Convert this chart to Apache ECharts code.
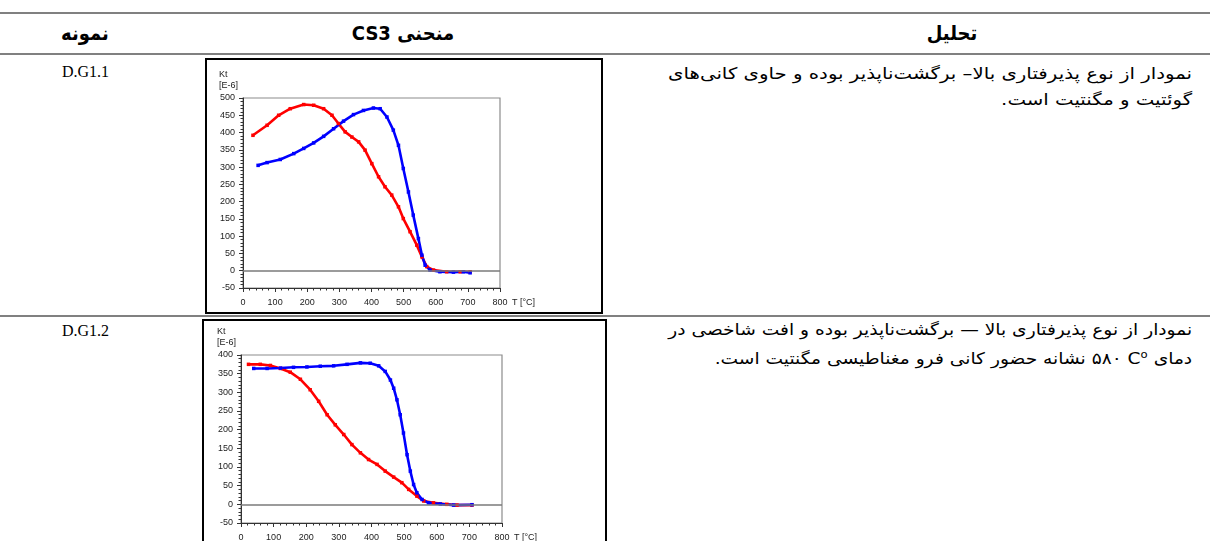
<!DOCTYPE html>
<html>
<head>
<meta charset="utf-8">
<script src="https://cdn.jsdelivr.net/npm/echarts@6/dist/echarts.min.js"></script>
<style>
  html, body { margin:0; padding:0; background:#fff; width:1210px; height:541px; overflow:hidden; }
  .hline { position:absolute; left:0; width:1210px; height:2px; background:#808080; }
  .hdr { position:absolute; top:19px; font-family:"DejaVu Sans Condensed","DejaVu Sans",sans-serif; font-weight:bold; font-size:20px; line-height:28px; transform:translateX(-50%); white-space:nowrap; }
  .sample { position:absolute; left:62px; font-family:"Liberation Serif","Times New Roman",serif; font-size:16px; line-height:20px; }
  .desc { position:absolute; right:18px; font-family:"DejaVu Sans",sans-serif; font-size:16px; line-height:26px; text-align:right; white-space:nowrap; transform-origin:right top; }
  .box { position:absolute; box-sizing:border-box; border:2px solid #000; background:#fff; }
  .box > div { width:100%; height:100%; }
  sup { font-size:10px; }
</style>
</head>
<body>
<div class="hline" style="top:12px"></div>
<div class="hline" style="top:53px"></div>
<div class="hline" style="top:315px"></div>

<div class="hdr" dir="rtl" style="left:85px">نمونه</div>
<div class="hdr" dir="rtl" style="left:403px">منحنی CS3</div>
<div class="hdr" dir="rtl" style="left:952px">تحلیل</div>

<div class="sample" style="top:62px">D.G1.1</div>
<div class="sample" style="top:321px">D.G1.2</div>

<div class="desc" dir="rtl" data-w="524" style="top:61px">نمودار از نوع پذیرفتاری بالا– برگشت‌ناپذیر بوده و حاوی کانی‌های<br>گوئتیت و مگنتیت است.</div>
<div class="desc" dir="rtl" data-w="524" style="top:317px; line-height:25px">نمودار از نوع پذیرفتاری بالا — برگشت‌ناپذیر بوده و افت شاخصی در<br>دمای <bdi dir="ltr">C<sup>o</sup></bdi> <bdi>۵۸۰</bdi> نشانه حضور کانی فرو مغناطیسی مگنتیت است.</div>

<div class="box" style="left:205px; top:58px; width:398px; height:256px;"><div id="c1"></div></div>
<div class="box" style="left:202px; top:319px; width:405px; height:240px;"><div id="c2"></div></div>

<script>
// ---- Sample D.G1.1 ----
const g11RedT  = [31, 75, 111, 147, 189, 220, 251, 277, 297, 318, 339, 360, 380, 401, 422, 442, 463, 484, 499, 520, 541, 557, 572, 593, 634, 676, 707];
const g11RedK  = [392, 421, 450, 469, 481, 479, 469, 450, 426, 402, 387, 373, 349, 310, 272, 243, 219, 185, 151, 113, 74, 40, 12, 2, -3, -3, -3];
const g11BlueT = [47, 75, 116, 158, 189, 220, 251, 282, 313, 344, 375, 406, 427, 448, 468, 484, 499, 515, 530, 546, 557, 567, 582, 613, 655, 686, 707];
const g11BlueK = [305, 313, 322, 339, 354, 370, 389, 411, 433, 452, 464, 471, 469, 445, 407, 363, 296, 228, 161, 93, 45, 16, 2, -3, -4, -3, -6];

// ---- Sample D.G1.2 ----
const g12RedT  = [23, 59, 90, 121, 151, 182, 212, 238, 264, 289, 315, 340, 366, 391, 417, 442, 468, 493, 514, 539, 560, 590, 631, 662, 708];
const g12RedK  = [375, 375, 372, 364, 354, 335, 307, 276, 240, 213, 187, 160, 138, 120, 107, 89, 73, 58, 40, 22, 9, 4, 0, -2, -2];
const g12BlueT = [39, 80, 121, 161, 202, 243, 284, 325, 366, 396, 422, 442, 458, 468, 478, 488, 498, 509, 519, 529, 539, 555, 575, 611, 652, 708];
const g12BlueK = [364, 364, 365, 367, 368, 370, 371, 375, 379, 378, 371, 356, 333, 311, 280, 240, 191, 133, 89, 53, 31, 13, 4, 1, -2, -1];

const xName = 'T [°C]';
const yName = '{a|Kt}\n{a|[E-6]}';

// fit the description paragraphs to the column width of the reference
document.querySelectorAll('.desc').forEach(d => {
  const target = +d.dataset.w;
  const w = d.getBoundingClientRect().width;
  if (w > 0) d.style.transform = 'scaleX(' + (target / w) + ')';
});

function zip(t, k) { return t.map((v, i) => [v, k[i]]); }

function makeOption(redT, redK, blueT, blueK, yMax, grid) {
  const ink = '#333';
  const font = 'Liberation Sans, Arial, sans-serif';
  const lineSeries = (data, color, withZero) => ({
    type: 'line', data: data, color: color,
    symbol: 'rect', symbolSize: 3.5, showSymbol: true,
    lineStyle: { color: color, width: 2.6 },
    itemStyle: { color: color },
    animation: false, silent: true, z: 3,
    markLine: withZero ? {
      silent: true, symbol: 'none', animation: false,
      label: { show: false },
      lineStyle: { color: '#7a7a7a', type: 'solid', width: 1.5 },
      data: [{ yAxis: 0 }]
    } : undefined
  });
  return {
    animation: false,
    grid: Object.assign({ show: true, borderColor: '#8c8c8c', borderWidth: 1.2, backgroundColor: 'transparent' }, grid),
    xAxis: {
      type: 'value', min: 0, max: 800, interval: 100,
      axisLine: { show: true, onZero: false, lineStyle: { color: ink, width: 1 } },
      axisTick: { show: true, length: 4, lineStyle: { color: ink } },
      minorTick: { show: true, splitNumber: 5, length: 2.5, lineStyle: { color: ink } },
      splitLine: { show: false },
      axisLabel: { fontSize: 9, color: '#222', margin: 10, fontFamily: font },
      name: xName, nameLocation: 'end', nameGap: 12, nameMoveOverlap: false,
      nameTextStyle: { fontSize: 9, color: '#222', fontFamily: font, align: 'left', verticalAlign: 'top', padding: [10, 0, 0, 0], lineHeight: 10 }
    },
    yAxis: {
      type: 'value', min: -50, max: yMax, interval: 50,
      axisLine: { show: true, onZero: false, lineStyle: { color: ink, width: 1 } },
      axisTick: { show: true, length: 4, lineStyle: { color: ink } },
      minorTick: { show: true, splitNumber: 5, length: 2.5, lineStyle: { color: ink } },
      splitLine: { show: false },
      axisLabel: { fontSize: 9, color: '#222', margin: 8, fontFamily: font },
      name: yName, nameLocation: 'end', nameGap: 7, nameMoveOverlap: false,
      nameTextStyle: {
        fontSize: 9, color: '#222', fontFamily: font, align: 'right', verticalAlign: 'bottom',
        padding: [0, 6, 0, 0], lineHeight: 11,
        rich: { a: { width: 18, align: 'left', fontSize: 9, lineHeight: 11, color: '#222', fontFamily: font } }
      }
    },
    series: [
      lineSeries(zip(redT, redK), '#ff0000', true),
      lineSeries(zip(blueT, blueK), '#0000ff', false)
    ]
  };
}

const c1 = echarts.init(document.getElementById('c1'), null, { renderer: 'canvas' });
c1.setOption(makeOption(g11RedT, g11RedK, g11BlueT, g11BlueK, 500, { left: 36, right: 101, top: 38, bottom: 24 }));
const c2 = echarts.init(document.getElementById('c2'), null, { renderer: 'canvas' });
c2.setOption(makeOption(g12RedT, g12RedK, g12BlueT, g12BlueK, 400, { left: 37, right: 103, top: 34, bottom: 34 }));
</script>
</body>
</html>
